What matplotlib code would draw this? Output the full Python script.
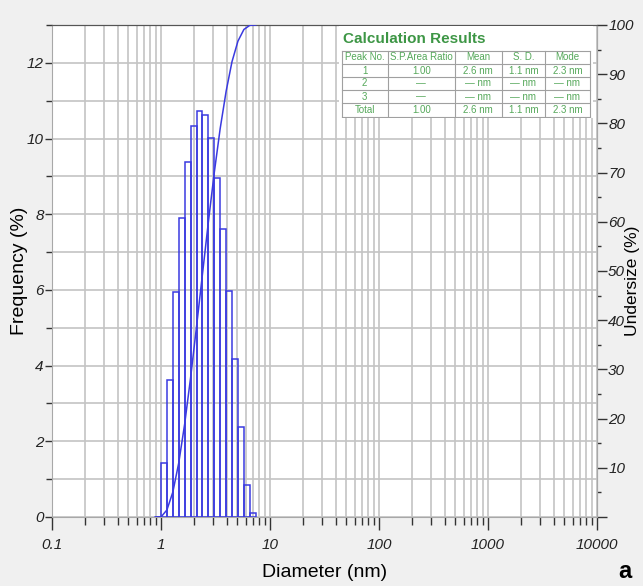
import matplotlib
matplotlib.use("Agg")
import matplotlib.pyplot as plt
from matplotlib import font_manager
from matplotlib.ticker import LogLocator, MultipleLocator, FuncFormatter, NullFormatter
import numpy as np

# histogram bins (nm) and frequency per bin (%)
bin_edges = [0.883, 1.0, 1.133, 1.284, 1.455, 1.649, 1.868, 2.117, 2.40, 2.72,
             3.08, 3.49, 3.96, 4.48, 5.08, 5.76, 6.52, 7.39]
frequency = [0.0, 1.43, 3.63, 5.94, 7.91, 9.39, 10.33, 10.72, 10.61, 10.01,
             8.97, 7.62, 5.98, 4.18, 2.37, 0.84, 0.11]

freq_ticks = [0, 2, 4, 6, 8, 10, 12]
under_ticks = [0, 10, 20, 30, 40, 50, 60, 70, 80, 90, 100]
x_ticks = [0.1, 1, 10, 100, 1000, 10000]
x_tick_labels = ["0.1", "1", "10", "100", "1000", "10000"]

table_title = "Calculation Results"
table_columns = ["Peak No.", "S.P.Area Ratio", "Mean", "S. D.", "Mode"]
table_rows = [
    ["1", "1.00", "2.6 nm", "1.1 nm", "2.3 nm"],
    ["2", "\u2014", "\u2014 nm", "\u2014 nm", "\u2014 nm"],
    ["3", "\u2014", "\u2014 nm", "\u2014 nm", "\u2014 nm"],
    ["Total", "1.00", "2.6 nm", "1.1 nm", "2.3 nm"],
]

installed = {f.name for f in font_manager.fontManager.ttflist}
narrow = "Liberation Sans Narrow" if "Liberation Sans Narrow" in installed else "Liberation Sans"
plt.rcParams["font.family"] = ["Liberation Sans", "DejaVu Sans"]

BLUE = "#3a3ae0"
GRID = "#c4c4c4"
GREEN_TITLE = "#3d9645"
GREEN_TEXT = "#55a85a"

W, H = 643, 586
fig = plt.figure(figsize=(W / 100, H / 100), dpi=100, facecolor="#f0f0f0")
ax = fig.add_axes([52 / W, 1 - 517 / H, 545 / W, 492 / H])
ax.set_facecolor("white")

widths = np.diff(bin_edges)
ax.bar(bin_edges[:-1], frequency, width=widths, align="edge", fill=False,
       edgecolor=BLUE, linewidth=1.1, zorder=3)

ax.set_xscale("log")
ax.set_xlim(0.1, 10000)
ax.set_ylim(0, 13)
ax.set_axisbelow(True)

ax.xaxis.set_major_locator(LogLocator(base=10))
ax.xaxis.set_minor_locator(LogLocator(base=10, subs=np.arange(2, 10)))
ax.xaxis.set_minor_formatter(NullFormatter())
ax.set_xticks(x_ticks)
ax.set_xticklabels(x_tick_labels)
ax.set_yticks(freq_ticks)
ax.yaxis.set_minor_locator(MultipleLocator(1))

ax.grid(True, which="both", color=GRID, linewidth=1.2)

tick_font = dict(family=[narrow, "DejaVu Sans"], style="italic", size=11)
for lab in ax.get_xticklabels() + ax.get_yticklabels():
    lab.set_fontproperties(font_manager.FontProperties(**tick_font))
    lab.set_color("#222222")

ax.tick_params(axis="x", which="major", length=9, width=1, color="#333333", pad=6)
ax.tick_params(axis="x", which="minor", length=6, width=1, color="#333333")
ax.tick_params(axis="y", which="major", length=5, width=1, color="#333333", pad=1)
ax.tick_params(axis="y", which="minor", length=4, width=1, color="#333333")

for side in ["left", "bottom", "right"]:
    ax.spines[side].set_color("#a8a8a8")
ax.spines["top"].set_color("#555555")

ax.set_xlabel("Diameter (nm)", fontsize=14, labelpad=9)
ax.set_ylabel("Frequency (%)", fontsize=14, va="center", ha="center")
ax.yaxis.set_label_coords(-0.06, 0.5)

# cumulative undersize curve on the right axis
ax2 = ax.twinx()
undersize = np.minimum(np.concatenate([[0.0], np.cumsum(frequency)]), 100)
ax2.plot(bin_edges, undersize, color=BLUE, linewidth=1.1, zorder=4)
ax2.set_ylim(0, 100)
ax2.set_yticks(under_ticks)
ax2.yaxis.set_minor_locator(MultipleLocator(5))
ax2.yaxis.set_major_formatter(FuncFormatter(lambda v, p: "" if v == 0 else f"{v:.0f}"))
for lab in ax2.get_yticklabels():
    lab.set_fontproperties(font_manager.FontProperties(**tick_font))
    lab.set_color("#222222")
ax2.tick_params(axis="y", which="major", length=7, width=1, color="#333333", pad=1)
ax2.tick_params(axis="y", which="minor", length=3, width=1, color="#333333")
for side in ["left", "bottom"]:
    ax2.spines[side].set_visible(False)
ax2.spines["right"].set_color("#a8a8a8")
ax2.spines["top"].set_color("#555555")
ax2.set_ylabel("Undersize (%)", fontsize=12.5, va="center", ha="center", rotation=90)
ax2.yaxis.set_label_coords(1.066, 0.48)

# results table in a white box, in pixel units of the figure
box = fig.add_axes([339 / W, 1 - 118 / H, 254 / W, 92 / H], zorder=5)
box.set_facecolor("white")
box.set_xticks([])
box.set_yticks([])
for s in box.spines.values():
    s.set_visible(False)
box.set_xlim(339, 593)
box.set_ylim(118, 26)

box.text(343, 39, table_title, color=GREEN_TITLE, fontsize=11, fontweight="bold",
         family=[narrow, "DejaVu Sans"], ha="left", va="center")

col_x = [341.7, 387.7, 455, 501.7, 545, 590]
row_y = [50.7, 64, 77, 90, 103, 116.5]
for x in col_x:
    box.plot([x, x], [row_y[0], row_y[-1]], color="#a0a0a0", linewidth=0.8)
for y in row_y:
    box.plot([col_x[0], col_x[-1]], [y, y], color="#a0a0a0", linewidth=0.8)
all_rows = [table_columns] + table_rows
for r, row in enumerate(all_rows):
    yc = (row_y[r] + row_y[r + 1]) / 2
    for c, txt in enumerate(row):
        xc = (col_x[c] + col_x[c + 1]) / 2
        box.text(xc, yc, txt, color=GREEN_TEXT, fontsize=7,
                 family=[narrow, "DejaVu Sans"], ha="center", va="center")

fig.text(625 / W, 1 - 572 / H, "a", fontsize=17, fontweight="bold", ha="center", va="center")

fig.savefig("out.png", dpi=100, facecolor=fig.get_facecolor())
